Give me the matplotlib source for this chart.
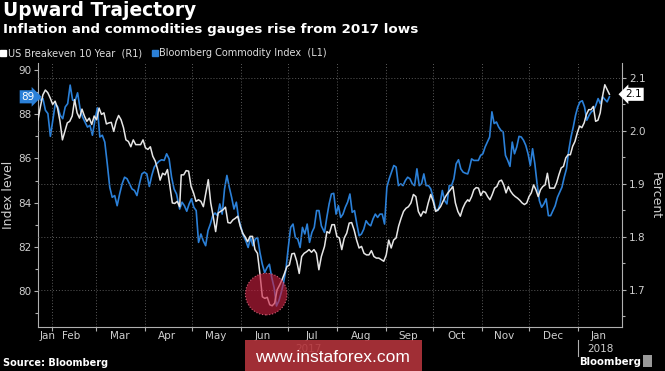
import pandas as pd
import matplotlib
matplotlib.use("Agg")
import matplotlib.pyplot as plt
from matplotlib.lines import Line2D
from matplotlib.patches import Rectangle

# Bloomberg Commodity Index (left axis) in four stretches
bcom_spans = [("2017-01-23", "2017-04-21"), ("2017-04-23", "2017-07-22"),
              ("2017-07-24", "2017-10-23"), ("2017-10-24", "2018-01-21")]
bcom_a = [88.94, 88.64, 88.71, 88.18, 88.03, 87.00, 87.73, 88.48, 88.33, 87.95,
          87.80, 88.33, 88.48, 89.32, 88.64, 88.61, 88.97, 88.26, 87.88, 87.65,
          87.42, 87.50, 87.05, 87.73, 88.29, 86.97, 87.05, 86.74, 85.76, 84.70,
          84.24, 84.32, 83.86, 84.39, 84.85, 85.15, 85.08, 84.85, 84.62, 84.55,
          84.32, 84.85, 85.30, 85.38, 85.30, 84.73, 85.23, 85.61, 85.76, 85.88,
          85.94, 85.91, 86.21, 85.98, 85.15, 84.62, 84.39]
bcom_b = [83.71, 84.02, 83.86, 83.61, 83.94, 84.17, 83.79, 83.64, 82.20, 82.58,
          82.27, 82.05, 82.73, 83.03, 83.41, 83.53, 83.41, 83.94, 83.48, 84.62,
          85.23, 84.70, 84.24, 83.71, 84.02, 83.26, 82.88, 82.50, 82.27, 81.97,
          82.42, 82.05, 82.35, 82.42, 81.74, 81.21, 80.83, 81.06, 81.21, 80.61,
          80.15, 79.32, 79.55, 79.92, 80.38, 80.98, 81.97, 82.88, 83.03, 82.42,
          82.35, 81.97, 82.88, 82.58, 83.03, 82.20, 82.65, 82.88, 83.64, 83.64,
          82.95]
bcom_c = [82.65, 83.33, 83.94, 84.39, 84.42, 83.48, 83.86, 83.33, 83.48, 83.79,
          84.02, 84.39, 83.56, 83.64, 83.03, 82.50, 82.58, 82.80, 83.18, 83.03,
          82.95, 83.26, 83.48, 83.33, 83.48, 83.48, 83.03, 84.70, 85.08, 85.38,
          85.68, 85.61, 84.77, 84.85, 84.77, 85.00, 85.15, 85.08, 84.85, 84.77,
          85.53, 84.77, 84.85, 85.30, 84.77, 84.77, 84.62, 84.24, 83.71, 83.64,
          83.94, 84.55, 84.09, 83.94, 84.77, 84.77, 85.08, 85.76, 85.94, 85.53,
          85.38, 85.33, 85.30]
bcom_d = [85.53, 85.98, 85.91, 85.91, 85.91, 86.14, 86.21, 86.52, 86.74, 86.97,
          88.11, 87.58, 87.65, 87.42, 87.27, 87.20, 86.14, 85.91, 85.64, 86.74,
          86.21, 86.52, 87.00, 86.97, 86.82, 86.59, 86.21, 85.68, 86.44, 85.76,
          84.85, 84.09, 83.79, 83.94, 84.17, 83.41, 83.41, 83.64, 83.86, 84.24,
          84.47, 84.70, 85.15, 85.53, 86.36, 86.97, 87.42, 87.95, 88.33, 88.56,
          88.61, 88.33, 87.73, 87.95, 88.11, 88.18, 88.41, 88.71, 88.48, 88.79,
          88.67, 88.56, 88.79]

# US Breakeven 10 Year (right axis, percent)
be_spans = [("2017-01-23", "2017-04-23"), ("2017-04-24", "2017-07-22"),
            ("2017-07-24", "2017-10-23"), ("2017-10-24", "2018-01-21")]
be_a = [2.021, 2.046, 2.068, 2.077, 2.072, 2.062, 2.050, 2.056, 2.043, 2.018,
        1.983, 1.999, 2.015, 2.018, 2.028, 2.059, 2.034, 2.024, 2.041, 2.028,
        2.018, 2.024, 2.012, 2.028, 2.021, 2.043, 2.031, 2.034, 2.013, 2.015,
        2.016, 1.999, 2.018, 2.029, 2.021, 2.006, 1.983, 1.980, 1.970, 1.983,
        1.974, 1.974, 1.974, 1.983, 1.968, 1.965, 1.970, 1.952, 1.943, 1.927,
        1.907, 1.920, 1.917, 1.927, 1.895, 1.864, 1.863, 1.867, 1.857]
be_b = [1.917, 1.917, 1.925, 1.924, 1.895, 1.883, 1.867, 1.870, 1.867, 1.857,
        1.883, 1.908, 1.864, 1.839, 1.810, 1.845, 1.848, 1.851, 1.856, 1.827,
        1.826, 1.832, 1.835, 1.839, 1.820, 1.807, 1.800, 1.791, 1.801, 1.801,
        1.776, 1.769, 1.731, 1.687, 1.684, 1.686, 1.672, 1.670, 1.675, 1.700,
        1.709, 1.719, 1.731, 1.744, 1.747, 1.768, 1.769, 1.754, 1.731, 1.763,
        1.769, 1.772, 1.776, 1.771, 1.776, 1.769, 1.738, 1.763]
be_c = [1.782, 1.810, 1.807, 1.823, 1.823, 1.801, 1.798, 1.776, 1.798, 1.807,
        1.826, 1.827, 1.813, 1.794, 1.779, 1.782, 1.769, 1.766, 1.766, 1.774,
        1.763, 1.760, 1.760, 1.757, 1.754, 1.766, 1.794, 1.779, 1.794, 1.798,
        1.820, 1.835, 1.848, 1.854, 1.857, 1.864, 1.880, 1.876, 1.848, 1.839,
        1.848, 1.845, 1.864, 1.880, 1.867, 1.848, 1.851, 1.857, 1.867, 1.876,
        1.883, 1.889, 1.895, 1.864, 1.848, 1.839, 1.854, 1.864, 1.870]
be_d = [1.867, 1.876, 1.889, 1.893, 1.892, 1.878, 1.886, 1.884, 1.876, 1.870,
        1.880, 1.892, 1.895, 1.905, 1.907, 1.898, 1.883, 1.895, 1.886, 1.880,
        1.876, 1.873, 1.869, 1.864, 1.861, 1.864, 1.876, 1.883, 1.898, 1.889,
        1.876, 1.889, 1.895, 1.898, 1.920, 1.892, 1.892, 1.892, 1.902, 1.917,
        1.930, 1.933, 1.949, 1.955, 1.955, 1.971, 1.980, 1.996, 2.009, 2.006,
        2.015, 2.031, 2.040, 2.040, 2.046, 2.018, 2.020, 2.034, 2.065, 2.087,
        2.078, 2.069]

month_names = ["Jan", "Feb", "Mar", "Apr", "May", "Jun", "Jul", "Aug", "Sep",
               "Oct", "Nov", "Dec", "Jan"]
month_label_dates = ["2017-01-29", "2017-02-13", "2017-03-16", "2017-04-15",
                     "2017-05-16", "2017-06-15", "2017-07-16", "2017-08-16",
                     "2017-09-15", "2017-10-16", "2017-11-15", "2017-12-16",
                     "2018-01-14"]

# highlight circle around the June lows
hl_date, hl_level = "2017-06-17", 79.86


def build(spans, parts):
    return pd.concat([pd.Series(v, index=pd.date_range(a, b, periods=len(v)))
                      for (a, b), v in zip(spans, parts)])


bcom = build(bcom_spans, [bcom_a, bcom_b, bcom_c, bcom_d])
be = build(be_spans, [be_a, be_b, be_c, be_d])

BLUE = "#2b80d8"
WHITE = "#e6e6e6"
GRID = "#5a5a5a"
AX = "#b0b0b0"
TXT = "#cfcfcf"

fig = plt.figure(figsize=(6.65, 3.71), dpi=100, facecolor="black")
ax = fig.add_axes([38 / 665, 44 / 371, 584 / 665, 264 / 371])
ax.set_facecolor("black")
ax2 = ax.twinx()

ax.plot(bcom.index, bcom.values, color=BLUE, lw=1.2)
ax2.plot(be.index, be.values, color=WHITE, lw=1.1)

start = pd.Timestamp("2017-01-23")
end = pd.Timestamp("2018-01-29")
ax.set_xlim(start, end)
ax.set_ylim(78.37, 90.32)
ax2.set_ylim(1.630, 2.128)

# y ticks
ax.set_yticks(range(80, 91, 2))
ax.set_yticks(range(79, 91, 2), minor=True)
ax2.set_yticks([1.7, 1.8, 1.9, 2.0, 2.1])
ax2.set_yticklabels(["1.7", "1.8", "1.9", "2.0", "2.1"])
ax2.set_yticks([1.65, 1.75, 1.85, 1.95, 2.05], minor=True)
for a in (ax, ax2):
    a.tick_params(axis="y", which="major", length=3, width=0.8, color=AX,
                  labelcolor=TXT, labelsize=7.5, pad=2)
    a.tick_params(axis="y", which="minor", length=2, width=0.8, color=AX)

# x ticks: month starts as ticks + gridlines, names in between
month_starts = pd.date_range("2017-02-01", "2018-01-01", freq="MS")
ax.set_xticks(month_starts)
ax.set_xticklabels([""] * len(month_starts))
ax.set_xticks(pd.to_datetime(month_label_dates), minor=True)
ax.set_xticklabels(month_names, minor=True)
ax.tick_params(axis="x", which="major", length=3, width=0.8, color=AX)
ax.tick_params(axis="x", which="minor", length=0, labelcolor=TXT,
               labelsize=7.5, pad=3)

ax.grid(axis="x", which="major", color=GRID, ls=(0, (1, 2)), lw=0.7)
ax2.grid(axis="y", which="major", color=GRID, ls=(0, (1, 2)), lw=0.7)

ax.spines["top"].set_visible(False)
ax.spines["right"].set_visible(False)
for s in ("left", "bottom"):
    ax.spines[s].set_color(AX)
    ax.spines[s].set_linewidth(0.8)
for s in ("top", "left", "bottom"):
    ax2.spines[s].set_visible(False)
ax2.spines["right"].set_color(AX)
ax2.spines["right"].set_linewidth(0.8)

# year labels under the month names
jan18 = pd.Timestamp("2018-01-01")
xt = ax.get_xaxis_transform()
ax.text(start + (jan18 - start) / 2, -0.083, "2017", transform=xt,
        ha="center", va="center", fontsize=7.5, color=TXT)
ax.text(jan18 + (end - jan18) / 2, -0.083, "2018",
        transform=xt, ha="center", va="center", fontsize=7.5, color=TXT)
ax.plot([jan18, jan18], [-0.05, -0.11], transform=xt, clip_on=False,
        color=AX, lw=0.8)

# last value tags
ax.text(-0.006, bcom.iloc[-1], f"{bcom.iloc[-1]:.0f}",
        transform=ax.get_yaxis_transform(), ha="right", va="center",
        fontsize=7.5, color="white",
        bbox=dict(boxstyle="rarrow,pad=0.15", fc=BLUE, ec="none"))
ax2.text(1.006, be.iloc[-1], f"{be.iloc[-1]:.1f}",
         transform=ax2.get_yaxis_transform(), ha="left", va="center",
         fontsize=7.5, color="black",
         bbox=dict(boxstyle="larrow,pad=0.15", fc="white", ec="none"))

# red highlight circle
ax2.scatter([pd.Timestamp(hl_date)], [ax2.transData.inverted().transform(
    ax.transData.transform((0, hl_level)))[1]], s=900,
    facecolor=(0.80, 0.12, 0.25, 0.62), edgecolor=(0.95, 0.45, 0.55, 0.8),
    linewidths=0.8, linestyles=":", zorder=5)

# titles and legend
fig.text(3 / 665, 1 - 1 / 371, "Upward Trajectory", fontsize=13.4,
         weight="bold", color="white", va="top")
fig.text(3 / 665, 1 - 23 / 371,
         "Inflation and commodities gauges rise from 2017 lows",
         fontsize=9.7, weight="bold", color="white", va="top")
handles = [Line2D([], [], marker="s", ls="none", color="white", markersize=4.5),
           Line2D([], [], marker="s", ls="none", color=BLUE, markersize=4.5)]
fig.legend(handles, ["US Breakeven 10 Year  (R1)",
                     "Bloomberg Commodity Index  (L1)"],
           loc="center left", bbox_to_anchor=(0, 1 - 53 / 371), ncol=2,
           frameon=False, fontsize=7, handlelength=0.6, handletextpad=0.2,
           columnspacing=1.0, borderaxespad=0, borderpad=0,
           labelcolor="#dddddd")

fig.text(9 / 665, 1 - 195 / 371, "Index level", rotation=90, fontsize=9,
         color=TXT, ha="center", va="center")
fig.text(655 / 665, 1 - 196 / 371, "Percent", rotation=270, fontsize=9,
         color=TXT, ha="center", va="center")

fig.text(3 / 665, 1 - 363 / 371, "Source: Bloomberg", fontsize=7,
         weight="bold", color="white", va="center")
fig.text(641 / 665, 1 - 362 / 371, "Bloomberg", fontsize=7.3,
         weight="bold", color="white", va="center", ha="right")
fig.patches.append(Rectangle((643 / 665, 4 / 371), 9 / 665, 12 / 371,
                             transform=fig.transFigure, fc="#9a9a9a",
                             ec="none"))

# watermark box (semi-transparent, the year label shows faintly through)
fig.patches.append(Rectangle((245 / 665, 0), 177 / 665, 31 / 371,
                             transform=fig.transFigure, fc="#b3343b",
                             ec="none", alpha=0.9, zorder=5))
fig.text(332 / 665, 1 - 357 / 371, "www.instaforex.com", fontsize=12.5,
         family="Liberation Sans", color="white", ha="center", va="center",
         zorder=6)

fig.savefig("out.png", dpi=100, facecolor="black")
